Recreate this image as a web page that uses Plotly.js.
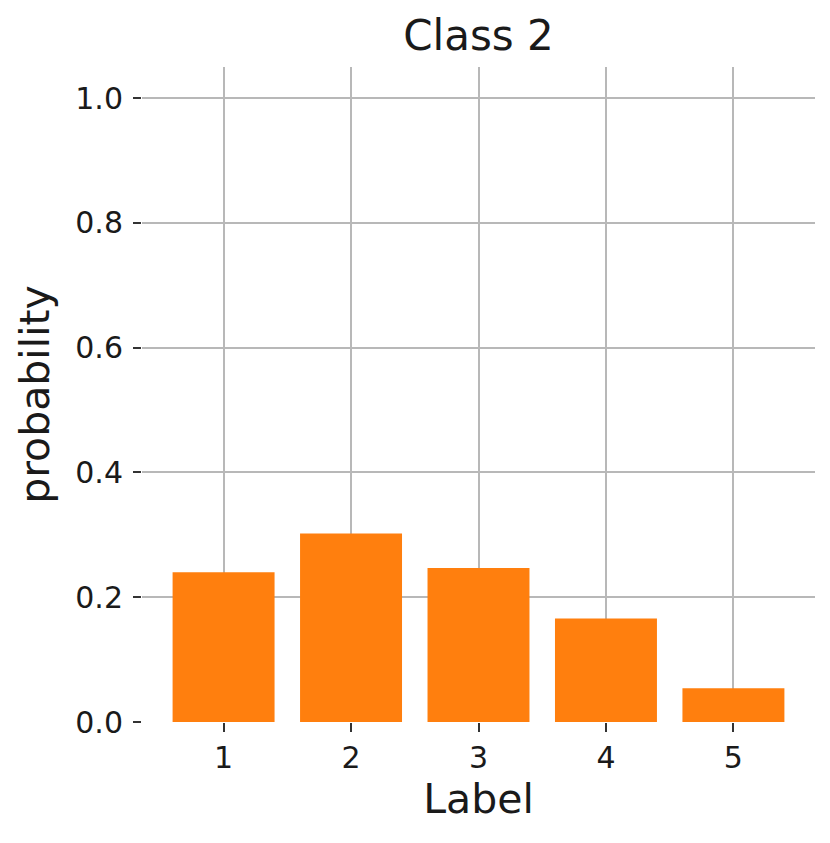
<!DOCTYPE html>
<html>
<head>
<meta charset="utf-8">
<script src="https://cdn.plot.ly/plotly-3.0.1.min.js"></script>
<style>html,body{margin:0;padding:0;background:#fff;}#chart{width:830px;height:843px;}</style>
</head>
<body>
<div id="chart"></div>
<script>
const labels = [1, 2, 3, 4, 5];
const probabilities = [0.240, 0.302, 0.247, 0.166, 0.054];
const yTicks = [0.0, 0.2, 0.4, 0.6, 0.8, 1.0];
const yTickText = ["0.0", "0.2", "0.4", "0.6", "0.8", "1.0"];

const trace = {
  type: 'bar',
  x: labels,
  y: probabilities,
  width: 0.8,
  marker: {color: '#ff7f0e', line: {width: 0}},
  hoverinfo: 'skip'
};

const font = "'DejaVu Sans', sans-serif";
const layout = {
  width: 830, height: 843,
  margin: {l: 142, r: 15, t: 67, b: 121},
  paper_bgcolor: '#ffffff',
  plot_bgcolor: '#ffffff',
  showlegend: false,
  font: {family: font, color: '#262626'},
  title: {text: 'Class 2', font: {family: font, size: 42, color: '#1a1a1a'}, x: 0.5, xref: 'paper', y: 0.975, yref: 'container', yanchor: 'top'},
  xaxis: {
    range: [0.36, 5.64],
    tickvals: labels,
    ticktext: labels.map(String),
    ticks: 'outside', ticklen: 9, tickwidth: 2, tickcolor: '#333',
    showgrid: true, gridcolor: '#b8b8b8', gridwidth: 2,
    zeroline: false, showline: false,
    tickfont: {family: font, size: 30, color: '#1a1a1a'},
    title: {text: 'Label', font: {family: font, size: 41, color: '#1a1a1a'}, standoff: 10}
  },
  yaxis: {
    range: [0, 1.05],
    tickvals: yTicks,
    ticktext: yTickText,
    ticks: 'outside', ticklen: 8, tickwidth: 2, tickcolor: '#333',
    ticklabelstandoff: 4,
    showgrid: true, gridcolor: '#b8b8b8', gridwidth: 2,
    zeroline: false, showline: false,
    tickfont: {family: font, size: 30, color: '#1a1a1a'},
    title: {text: 'probability', font: {family: font, size: 41, color: '#1a1a1a'}, standoff: 12}
  }
};

Plotly.newPlot('chart', [trace], layout, {staticPlot: true, displayModeBar: false});
</script>
</body>
</html>
